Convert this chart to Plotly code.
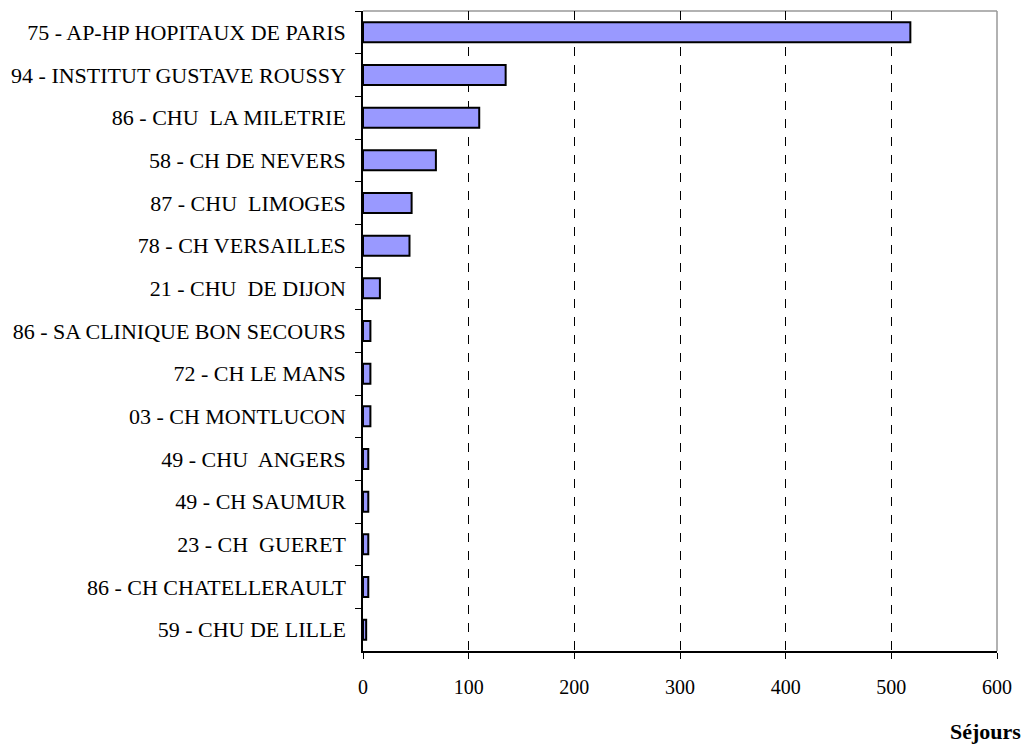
import plotly.graph_objects as go

categories = [
    "75 - AP-HP HOPITAUX DE PARIS",
    "94 - INSTITUT GUSTAVE ROUSSY",
    "86 - CHU  LA MILETRIE",
    "58 - CH DE NEVERS",
    "87 - CHU  LIMOGES",
    "78 - CH VERSAILLES",
    "21 - CHU  DE DIJON",
    "86 - SA CLINIQUE BON SECOURS",
    "72 - CH LE MANS",
    "03 - CH MONTLUCON",
    "49 - CHU  ANGERS",
    "49 - CH SAUMUR",
    "23 - CH  GUERET",
    "86 - CH CHATELLERAULT",
    "59 - CHU DE LILLE",
]
sejours = [518, 135, 110, 69, 46, 44, 16, 7, 7, 7, 5, 5, 5, 5, 3]
x_ticks = [0, 100, 200, 300, 400, 500, 600]
x_title = "Séjours"

font_family = "Liberation Serif, Times New Roman, serif"

fig = go.Figure()
fig.add_trace(go.Bar(
    x=sejours,
    y=categories,
    orientation="h",
    marker=dict(color="#9999FF", line=dict(color="black", width=2)),
    hoverinfo="x+y",
))

fig.update_layout(
    width=1024,
    height=737,
    margin=dict(l=351, r=35, t=3, b=94),
    paper_bgcolor="white",
    plot_bgcolor="white",
    bargap=0.53,
    showlegend=False,
    font=dict(family=font_family, color="black", size=20),
    xaxis=dict(
        range=[0, 600],
        tickvals=x_ticks,
        ticktext=[str(v) for v in x_ticks],
        showgrid=True,
        gridcolor="black",
        gridwidth=1,
        griddash="dash",
        showline=True,
        linecolor="black",
        linewidth=1.5,
        ticks="outside",
        ticklen=6,
        tickcolor="black",
        tickfont=dict(family=font_family, size=20, color="black"),
        ticklabelstandoff=11,
        zeroline=False,
        fixedrange=True,
    ),
    yaxis=dict(
        type="category",
        autorange="reversed",
        showline=True,
        linecolor="black",
        linewidth=1.5,
        ticks="outside",
        tickson="boundaries",
        ticklen=6,
        tickcolor="black",
        tickfont=dict(family=font_family, size=22, color="black"),
        ticklabelstandoff=11,
        showgrid=False,
        fixedrange=True,
    ),
    shapes=[
        dict(type="line", xref="paper", yref="paper", x0=0, x1=1, y0=1, y1=1,
             line=dict(color="#999999", width=1.5), layer="below"),
        dict(type="line", xref="paper", yref="paper", x0=1, x1=1, y0=0, y1=1,
             line=dict(color="#999999", width=1.5), layer="below"),
    ],
    annotations=[
        dict(text="<b>" + x_title + "</b>", xref="paper", yref="paper", x=1, y=0,
             xanchor="right", yanchor="middle", xshift=26, yshift=-80,
             showarrow=False, font=dict(family=font_family, size=22, color="black")),
    ],
)

fig.write_html("out.html")
